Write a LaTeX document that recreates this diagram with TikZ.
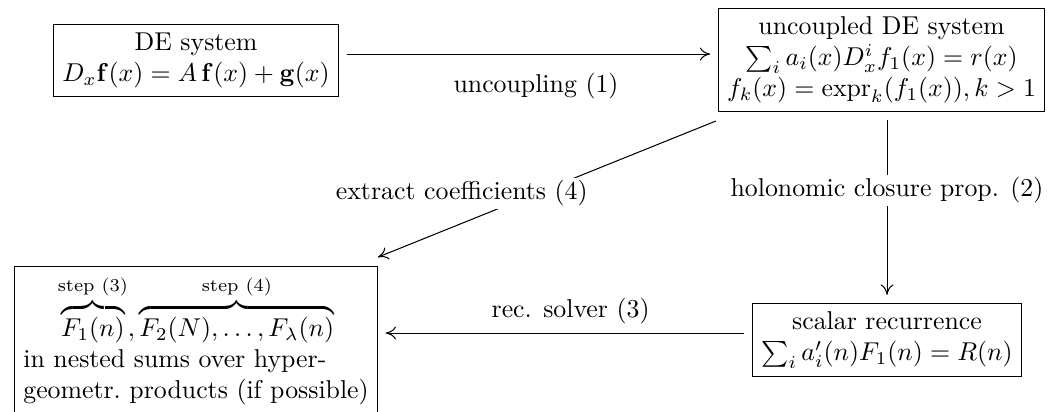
\documentclass[tikz,border=0pt]{standalone}
\usepackage{amsmath}
\usetikzlibrary{arrows.meta}
\begin{document}
\begin{tikzpicture}
    [font=\normalsize,
    >={To[length=4pt,width=5pt]},
    box/.style={shape=rectangle,draw=black,align=center},
    arc/.style={->,shorten >=3pt,shorten <=3pt},
    lbl/.style={fill=white,inner sep=1pt}]

    \useasboundingbox (0,0) rectangle (14.301,-5.598);

    \node (A) [box] at (2.670,-0.824) {DE system\\ $D_x\mathbf{f}(x)=A\,\mathbf{f}(x)+\mathbf{g}(x)$};
    \node (B) [box,anchor=west] at (9.779,-0.817) {uncoupled DE system\\ $\sum_i a_i(x)D_x^if_1(x)=r(x)$\\ $f_k(x)=\mathrm{expr}_k(f_1(x)),k>1$};
    \node (C) [box,anchor=north] at (2.670,-3.623) {\begin{tabular}{@{}l@{}}
      \multicolumn{1}{@{}c@{}}{$\overbrace{F_1(n)}^{\text{step (3)}},\overbrace{F_2(N),\dots,F_\lambda(n)}^{\text{step (4)}}$}\\
      in nested sums over hyper-\\
      geometr.\ products (if possible)
      \end{tabular}};
    \node (D) [box] at (12.081,-4.631) {scalar recurrence\\ $\sum_i a'_i(n)F_1(n)=R(n)$};
   % \node (D) [box,below=3cm of B] {...};

    \coordinate (Ae) at ([yshift=2.5pt]A.east);
    \coordinate (Dw) at ([yshift=2.7pt]D.west);

    \draw [arc] (Ae) -- (Ae -| B.west) node [pos=0.52,below=4pt] {uncoupling (1)};
    \draw [arc] (B.south -| D.north) -- (D.north) node [pos=0.41,lbl] {holonomic closure prop. (2)};
    \draw [arc] (Dw) -- (Dw -| C.east) node [pos=0.485,above] {rec. solver (3)};
    \draw [->] ([shift={(-0.03,-0.12)}]B.south west) -- ([shift={(0,0.12)}]C.north east)
      node [pos=0.53,xshift=-1.02cm,lbl] {extract coefficients (4)};

  \end{tikzpicture}
\end{document}
